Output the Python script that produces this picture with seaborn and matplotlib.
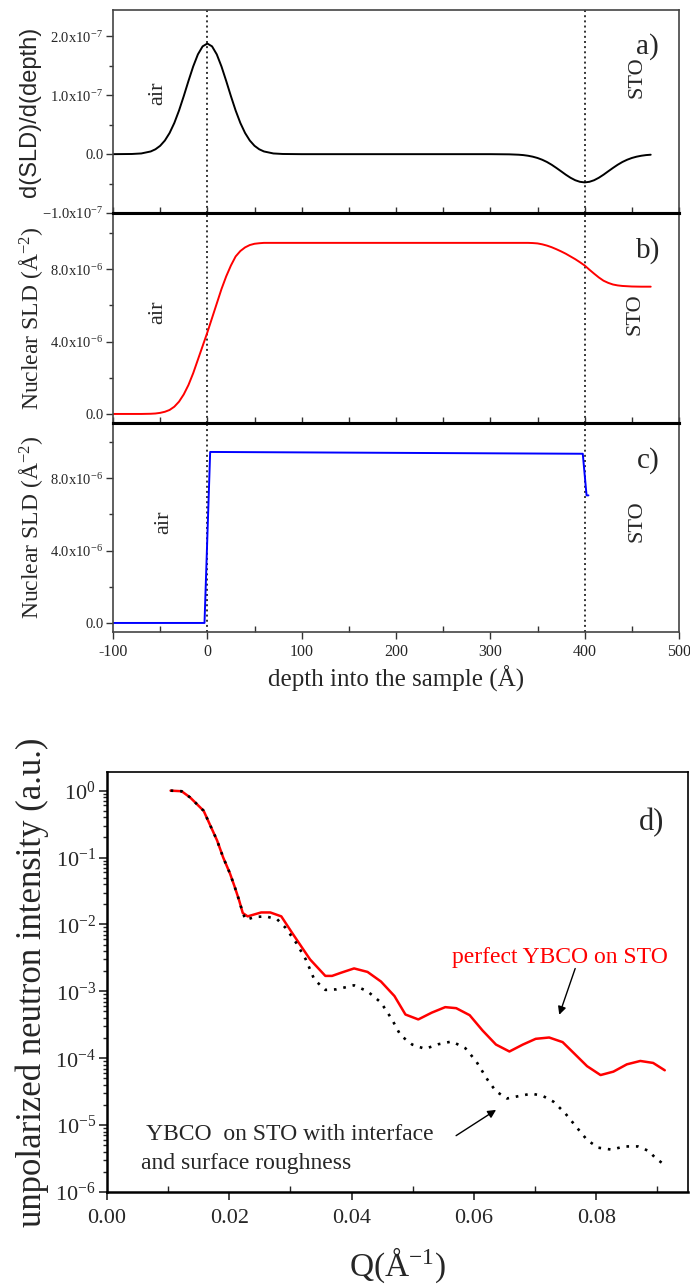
import matplotlib
matplotlib.use("Agg")
import matplotlib.pyplot as plt
import seaborn as sns
import numpy as np
from matplotlib.ticker import MultipleLocator, FuncFormatter, LogLocator, NullFormatter

# ---------------- data ----------------
# panel a: derivative of SLD vs depth (units 1e-7)
depth_a = [-100, -80, -70, -60, -55, -50, -45, -40, -35, -30, -25, -20, -15, -10, -5, 0,
           5, 10, 15, 20, 25, 30, 35, 40, 45, 50, 55, 60, 70, 80,
           100, 150, 200, 250, 300, 320, 330, 335, 340, 345, 350, 355, 360, 365, 370, 375,
           380, 385, 390, 395, 400, 405, 410, 415, 420, 425, 430, 435, 440, 445, 450, 455,
           460, 465, 470]
dsld_a = [0.0, 0.003, 0.012, 0.046, 0.083, 0.142, 0.232, 0.36, 0.53, 0.742, 0.986, 1.244,
          1.49, 1.696, 1.832, 1.88,
          1.832, 1.696, 1.49, 1.244, 0.986, 0.742, 0.53, 0.36, 0.232, 0.142, 0.083, 0.046,
          0.012, 0.003,
          0.0, 0.0, 0.0, 0.0, 0.0, -0.003, -0.0095, -0.016, -0.027, -0.043, -0.065, -0.095,
          -0.133, -0.180, -0.234, -0.291,
          -0.349, -0.401, -0.443, -0.470, -0.48, -0.470, -0.443, -0.401, -0.349, -0.291,
          -0.234, -0.180, -0.133, -0.095, -0.065, -0.043,
          -0.027, -0.016, -0.0095]

# panel b: smooth nuclear SLD (units 1e-6)
depth_b = [-100, -80, -70, -60, -55, -50, -45, -40, -35, -30, -25, -20, -15, -10, -5, 0,
           5, 10, 15, 20, 25, 30, 35, 40, 45, 50, 55, 60, 70,
           150, 250, 340, 345, 350, 355, 360, 365, 370, 375, 380, 385, 390, 395, 400,
           405, 410, 415, 420, 425, 430, 435, 440, 450, 460, 470]
sld_b = [0.0, 0.0, 0.0, 0.01, 0.025, 0.06, 0.12, 0.22, 0.4, 0.68, 1.08, 1.6, 2.25, 3.0, 3.75, 4.5,
         5.3, 6.1, 6.9, 7.6, 8.2, 8.7, 9.0, 9.2, 9.33, 9.4, 9.43, 9.45, 9.45,
         9.45, 9.45, 9.45, 9.44, 9.42, 9.37, 9.3, 9.21, 9.1, 8.98, 8.85, 8.7, 8.55, 8.38, 8.2,
         7.97, 7.75, 7.54, 7.36, 7.24, 7.15, 7.1, 7.07, 7.04, 7.03, 7.03]

# panel c: sharp nuclear SLD (units 1e-6)
depth_c = [-100, -3, 3, 398, 402, 404]
sld_c = [0.0, 0.0, 9.45, 9.35, 7.05, 7.05]

# panel d: reflectivity curves
q_perfect = [0.0104, 0.0122, 0.0136, 0.0158, 0.018, 0.019, 0.0201, 0.0209, 0.0216, 0.0222,
             0.023, 0.0252, 0.0267, 0.0285, 0.0303, 0.0332, 0.0357, 0.0368, 0.0383, 0.0404,
             0.0426, 0.0448, 0.047, 0.0488, 0.0509, 0.0531, 0.0553, 0.0571, 0.0593, 0.0614,
             0.0636, 0.0658, 0.068, 0.0701, 0.0723, 0.0745, 0.0763, 0.0785, 0.0807, 0.0828,
             0.085, 0.0872, 0.0893, 0.0912]
i_perfect = [1.0, 0.98, 0.79, 0.50, 0.18, 0.10, 0.058, 0.036, 0.023, 0.0148,
             0.0132, 0.0151, 0.0151, 0.0132, 0.0074, 0.0030, 0.0017, 0.0017, 0.0019, 0.0022,
             0.00195, 0.0014, 0.00085, 0.00045, 0.00038, 0.00048, 0.00058, 0.00056, 0.00044, 0.00026,
             0.00016, 0.000126, 0.00016, 0.000195, 0.000204, 0.000174, 0.00012, 7.6e-5, 5.6e-5, 6.3e-5,
             8.1e-5, 9.1e-5, 8.5e-5, 6.6e-5]

q_rough = [0.0104, 0.0122, 0.0136, 0.0158, 0.018, 0.019, 0.0201, 0.0209, 0.0216, 0.0222,
           0.0227, 0.0241, 0.0259, 0.0278, 0.0292, 0.031, 0.0325, 0.0339, 0.0357, 0.0375,
           0.0404, 0.0426, 0.0448, 0.0466, 0.048, 0.0499, 0.052, 0.0542, 0.0564, 0.0586,
           0.0604, 0.0622, 0.0636, 0.0654, 0.0672, 0.0694, 0.0712, 0.073, 0.0749, 0.0767,
           0.0785, 0.0803, 0.0825, 0.0846, 0.0868, 0.0886, 0.0897, 0.0908]
i_rough = [1.0, 0.98, 0.79, 0.50, 0.18, 0.10, 0.058, 0.036, 0.023, 0.0148,
           0.0117, 0.0129, 0.0132, 0.0120, 0.0089, 0.0052, 0.0030, 0.0015, 0.00105, 0.00107,
           0.00123, 0.0010, 0.00068, 0.00038, 0.00022, 0.00016, 0.000138, 0.000162, 0.000178, 0.000141,
           8.9e-5, 4.8e-5, 3.2e-5, 2.5e-5, 2.7e-5, 2.95e-5, 2.75e-5, 2.24e-5, 1.51e-5, 9.5e-6,
           6.0e-6, 4.6e-6, 4.3e-6, 4.8e-6, 4.8e-6, 4.1e-6, 3.2e-6, 2.7e-6]

interfaces = [0, 400]

# ---------------- style ----------------
sns.set_theme(style="ticks")
plt.rcParams['font.family'] = ['Liberation Serif', 'DejaVu Serif']
plt.rcParams['mathtext.fontset'] = 'custom'
plt.rcParams['mathtext.rm'] = 'Liberation Serif'
plt.rcParams['mathtext.it'] = 'Liberation Serif:italic'
plt.rcParams['mathtext.bf'] = 'Liberation Serif:bold'
plt.rcParams['axes.unicode_minus'] = False

fig = plt.figure(figsize=(6.9, 12.85), dpi=100)
W, H = 690.0, 1285.0

def axes_px(left, top, right, bottom):
    return fig.add_axes([left / W, 1 - bottom / H, (right - left) / W, (bottom - top) / H])

ax_a = axes_px(113, 10, 679, 213)
ax_b = axes_px(113, 213, 679, 423)
ax_c = axes_px(113, 423, 679, 632)
ax_d = axes_px(107, 772, 688, 1192)

def sci_fmt(exp):
    def f(v, pos):
        m = v / 10.0 ** exp
        if abs(m) < 1e-9:
            return '0.0'
        return r'$%.1f\mathrm{x}10^{%d}$' % (m, exp)
    return FuncFormatter(f)

top_panels = [
    (ax_a, depth_a, [v * 1e-7 for v in dsld_a], 'black', -7, (-1.0e-7, 2.45e-7), 1e-7, 0.5e-7, 'a)'),
    (ax_b, depth_b, [v * 1e-6 for v in sld_b], 'red', -6, (-0.5e-6, 11.1e-6), 4e-6, 2e-6, 'b)'),
    (ax_c, depth_c, [v * 1e-6 for v in sld_c], 'blue', -6, (-0.5e-6, 11.05e-6), 4e-6, 2e-6, 'c)'),
]

for ax, xs, ys, col, ex, ylim, maj, mnr, lab in top_panels:
    sns.lineplot(x=xs, y=ys, ax=ax, color=col, linewidth=1.4, estimator=None, sort=False)
    for xv in interfaces:
        ax.axvline(xv, color='#333333', linestyle=':', linewidth=1.4, zorder=1)
    ax.set_xlim(-100, 500)
    ax.set_ylim(*ylim)
    ax.yaxis.set_major_locator(MultipleLocator(maj))
    ax.yaxis.set_minor_locator(MultipleLocator(mnr))
    ax.yaxis.set_major_formatter(sci_fmt(ex))
    ax.xaxis.set_major_locator(MultipleLocator(100))
    ax.xaxis.set_minor_locator(MultipleLocator(50))
    ax.tick_params(axis='y', which='major', direction='out', length=5, width=1, labelsize=10.5,
                   color='#333333', pad=2)
    ax.tick_params(axis='y', which='minor', direction='out', length=3, width=1, color='#333333')
    ax.tick_params(axis='x', which='both', direction='in', length=4, width=1, color='#333333',
                   labelsize=11.5)
    for s in ax.spines.values():
        s.set_color('#444444')
        s.set_linewidth(1.2)
    ax.set_xlabel('')
    ax.set_ylabel('')
    yr = ylim[1] - ylim[0]
    ax.text(467, ylim[0] + 0.82 * yr, lab, fontsize=21, ha='center', va='center')

ax_a.tick_params(axis='x', labelbottom=False)
ax_b.tick_params(axis='x', labelbottom=False)
ax_c.tick_params(axis='x', which='major', direction='out', length=5)
for ax in (ax_a, ax_b):
    ax.spines['bottom'].set_color('black')
    ax.spines['bottom'].set_linewidth(2.2)
for ax in (ax_b, ax_c):
    ax.spines['top'].set_color('black')
    ax.spines['top'].set_linewidth(2.2)

# air / STO labels
lab_fs = 16
ax_a.text(-53, 1.03e-7, 'air', rotation=90, fontsize=lab_fs, ha='center', va='center')
ax_a.text(456, 1.3e-7, 'STO', rotation=90, fontsize=lab_fs, ha='center', va='center')
ax_b.text(-53, 5.6e-6, 'air', rotation=90, fontsize=lab_fs, ha='center', va='center')
ax_b.text(453, 5.5e-6, 'STO', rotation=90, fontsize=lab_fs, ha='center', va='center')
ax_c.text(-46, 5.55e-6, 'air', rotation=90, fontsize=lab_fs, ha='center', va='center')
ax_c.text(456, 5.6e-6, 'STO', rotation=90, fontsize=lab_fs, ha='center', va='center')

ax_a.set_ylabel('d(SLD)/d(depth)', fontsize=17, family=['Liberation Sans', 'DejaVu Sans'])
ax_b.set_ylabel('Nuclear SLD (Å$^{-2}$)', fontsize=17)
ax_c.set_ylabel('Nuclear SLD (Å$^{-2}$)', fontsize=17)
ax_a.yaxis.set_label_coords(-0.128, 0.5)
ax_b.yaxis.set_label_coords(-0.12, 0.5)
ax_c.yaxis.set_label_coords(-0.12, 0.5)
ax_c.set_xlabel('depth into the sample (Å)', fontsize=18)
ax_c.xaxis.set_label_coords(0.5, -0.16)

# ---------------- panel d ----------------
sns.lineplot(x=q_perfect, y=i_perfect, ax=ax_d, color='red', linewidth=1.8, estimator=None, sort=False)
sns.lineplot(x=q_rough, y=i_rough, ax=ax_d, color='black', linewidth=1.9, estimator=None, sort=False,
             linestyle=(0, (1, 2.6)))
ax_d.set_yscale('log')
ax_d.set_xlim(0, 0.095)
ax_d.set_ylim(1e-6, 1.9)
ax_d.xaxis.set_major_locator(MultipleLocator(0.02))
ax_d.xaxis.set_minor_locator(MultipleLocator(0.01))
ax_d.xaxis.set_major_formatter(FuncFormatter(lambda v, p: '%.2f' % v))
ax_d.yaxis.set_major_locator(LogLocator(base=10, numticks=10))
ax_d.yaxis.set_minor_locator(LogLocator(base=10, subs=np.arange(2, 10), numticks=20))
ax_d.yaxis.set_minor_formatter(NullFormatter())
ax_d.tick_params(axis='y', which='major', direction='out', length=6, width=1.2, labelsize=16, pad=2)
ax_d.tick_params(axis='y', which='minor', direction='out', length=3, width=1)
ax_d.tick_params(axis='x', which='major', direction='out', length=6, width=1.2, labelsize=16, pad=6)
ax_d.tick_params(axis='x', which='minor', direction='in', length=4, width=1)
for s in ax_d.spines.values():
    s.set_color('black')
    s.set_linewidth(1.2)
ax_d.spines['left'].set_linewidth(1.8)
ax_d.spines['bottom'].set_linewidth(1.8)
ax_d.set_ylabel('unpolarized neutron intensity (a.u.)', fontsize=25)
ax_d.yaxis.set_label_coords(-0.1, 0.5)
ax_d.set_xlabel('Q(Å$^{-1}$)', fontsize=24)
ax_d.xaxis.set_label_coords(0.5, -0.128)

ax_d.text(0.089, 10 ** -0.47, 'd)', fontsize=22, ha='center', va='center')
ax_d.text(0.0741, 10 ** -2.5, 'perfect YBCO on STO', color='red', fontsize=17, ha='center', va='center')
ax_d.annotate('', xy=(0.0738, 10 ** -3.39), xytext=(0.0767, 10 ** -2.62),
              arrowprops=dict(arrowstyle='-|>', color='black', lw=1.0, mutation_scale=12))
ax_d.text(0.0064, 10 ** -5.14, 'YBCO  on STO with interface', fontsize=17, ha='left', va='center')
ax_d.text(0.0055, 10 ** -5.57, 'and surface roughness', fontsize=17, ha='left', va='center')
ax_d.annotate('', xy=(0.0640, 10 ** -4.75), xytext=(0.0567, 10 ** -5.18),
              arrowprops=dict(arrowstyle='-|>', color='black', lw=1.0, mutation_scale=12))

fig.savefig('out.png', dpi=100)
